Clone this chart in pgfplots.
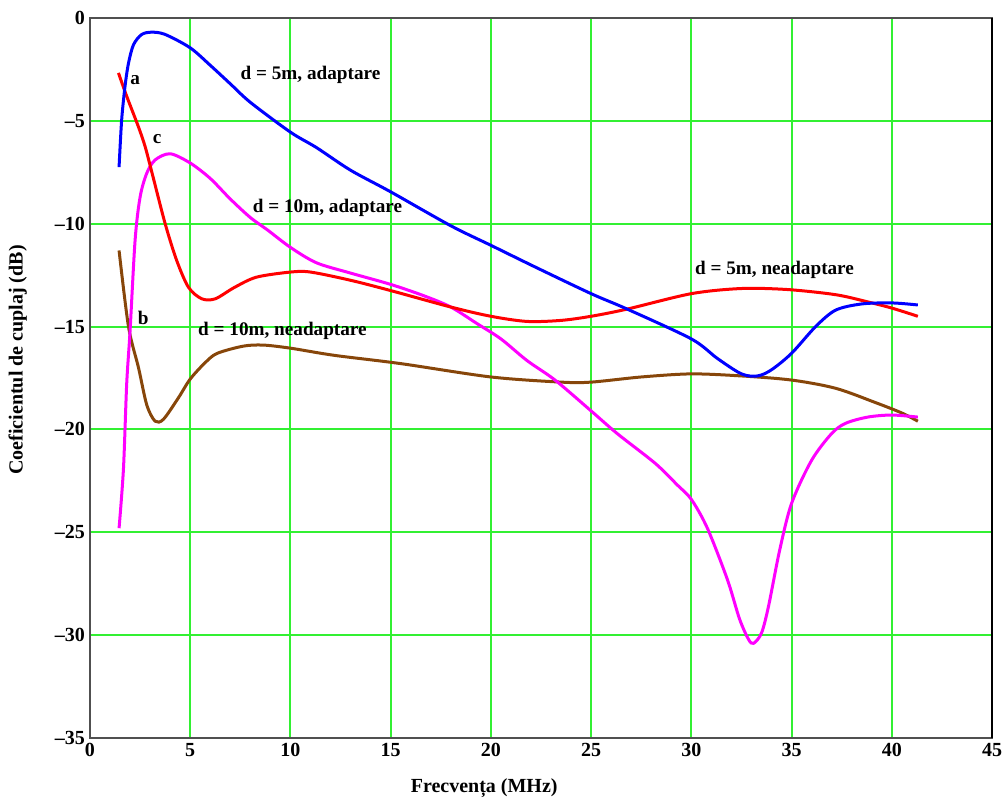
\documentclass[border=0pt]{standalone}
\usepackage{fontspec}
\setmainfont{Liberation Serif}
\usepackage{pgfplots}
\pgfplotsset{compat=1.18}

\definecolor{gridgreen}{RGB}{50,240,50}
\definecolor{cbrown}{RGB}{135,70,10}
\definecolor{cmag}{RGB}{255,0,255}
\definecolor{cblue}{RGB}{0,0,255}
\definecolor{cred}{RGB}{255,0,0}
\definecolor{frame}{RGB}{80,80,80}

\begin{document}
\begin{tikzpicture}
\begin{axis}[
    scale only axis,
    width=451pt, height=360pt,
    xmin=0, xmax=45, ymin=-35, ymax=0,
    xtick={0,5,...,45},
    ytick={-35,-30,...,0},
    yticklabels={–35,–30,–25,–20,–15,–10,–5,0},
    grid=major,
    major grid style={gridgreen, line width=1pt},
    axis line style={frame, line width=1pt},
    tick style={draw=none},
    ticklabel style={font=\fontsize{10}{12}\selectfont\bfseries},
    /pgf/number format/assume math mode=true,
    xticklabel style={yshift=1pt},
    yticklabel style={xshift=1pt},
    xlabel={Frecvența (MHz)},
    ylabel={Coeficientul de cuplaj (dB)},
    label style={font=\fontsize{10}{12}\selectfont\bfseries},
    xlabel style={at={(axis description cs:0.437,0)}, anchor=north, yshift=-17pt},
    ylabel style={at={(axis description cs:0,0.525)}, anchor=south, yshift=28pt},
    every axis plot/.append style={line width=1.5pt, smooth, no markers},
    clip=false,
]
% d = 10m, neadaptare
\addplot[cbrown] coordinates {
(1.45,-11.3)(1.92,-15.0)(2.42,-17.0)(2.83,-18.8)(3.25,-19.6)(3.67,-19.5)
(4.42,-18.45)(5,-17.55)(5.75,-16.75)(6.35,-16.3)(7.65,-15.95)(8.65,-15.9)
(10,-16.05)(12.2,-16.4)(15.5,-16.8)(20,-17.45)(23.5,-17.7)(25,-17.7)
(27.5,-17.45)(30,-17.3)(32.5,-17.4)(35,-17.6)(37.2,-18.0)(39.2,-18.7)
(40.5,-19.2)(41.3,-19.6)};
% d = 10m, adaptare
\addplot[cmag] coordinates {
(1.45,-24.8)(1.67,-21.9)(1.83,-17.8)(2.0,-15.2)(2.25,-10.8)(2.5,-8.7)
(2.83,-7.55)(3.25,-6.9)(4,-6.6)(5,-7.05)(6,-7.8)(7,-8.8)(8,-9.7)(8.85,-10.3)(10,-11.15)
(11.3,-11.9)(13,-12.4)(15,-12.95)(16.65,-13.5)(18,-14.05)(19.3,-14.85)
(20.5,-15.6)(21.8,-16.65)(23.2,-17.6)(25,-19.1)(26.3,-20.2)(28.2,-21.65)
(29.3,-22.7)(30,-23.4)(30.8,-24.8)(31.8,-27.3)(32.4,-29.2)(32.85,-30.2)
(33.1,-30.4)(33.5,-29.9)(33.85,-28.6)(34.4,-25.9)(35,-23.6)(36,-21.5)
(37,-20.2)(37.7,-19.7)(38.8,-19.4)(40,-19.3)(41.3,-19.4)};
% d = 5m, neadaptare
\addplot[cred] coordinates {
(1.42,-2.67)(1.83,-3.8)(2.42,-5.3)(2.75,-6.25)(3.1,-7.55)(3.75,-10.0)
(4.33,-11.8)(4.92,-13.1)(5.58,-13.65)(6.25,-13.65)(7.2,-13.1)
(8.3,-12.6)(10,-12.35)(11,-12.35)(13,-12.75)(15,-13.25)(18,-14.05)
(20,-14.5)(21.8,-14.75)(23.5,-14.7)(25,-14.5)(26.8,-14.15)(30,-13.4)
(32.5,-13.15)(34.8,-13.2)(37.2,-13.45)(38.8,-13.8)(40,-14.1)(41.3,-14.5)};
% d = 5m, adaptare
\addplot[cblue] coordinates {
(1.45,-7.25)(1.58,-4.95)(1.75,-3.3)(1.92,-2.2)(2.17,-1.3)(2.58,-0.8)
(3.08,-0.69)(3.75,-0.8)(5,-1.45)(6,-2.3)(7,-3.2)(8,-4.1)(10,-5.55)(11.3,-6.3)(13,-7.4)
(15,-8.45)(18,-10.1)(20,-11.05)(22.2,-12.1)(25,-13.4)(26.8,-14.15)
(30,-15.6)(31.3,-16.55)(32.5,-17.3)(33.3,-17.4)(34,-17.1)(35,-16.3)
(36.2,-15.0)(37.2,-14.2)(38.5,-13.9)(40,-13.85)(41.3,-13.95)};

\draw[black, line width=1.2pt] (rel axis cs:1,0) -- (rel axis cs:1,1);

\begin{scope}[every node/.style={font=\fontsize{9.6}{11}\selectfont\bfseries, inner sep=0pt}]
\node at (axis cs:2.25,-3.0) {a};
\node at (axis cs:3.35,-5.9) {c};
\node at (axis cs:2.65,-14.6) {b};
\node at (axis cs:11,-2.75) {d = 5m, adaptare};
\node at (axis cs:11.85,-9.25) {d = 10m, adaptare};
\node at (axis cs:34.15,-12.25) {d = 5m, neadaptare};
\node at (axis cs:9.6,-15.2) {d = 10m, neadaptare};
\end{scope}
\end{axis}
\pgfresetboundingbox
\path[use as bounding box] ([xshift=-45pt,yshift=-30pt]current axis.south west) rectangle ([xshift=6.5pt,yshift=9pt]current axis.north east);
\end{tikzpicture}
\end{document}
